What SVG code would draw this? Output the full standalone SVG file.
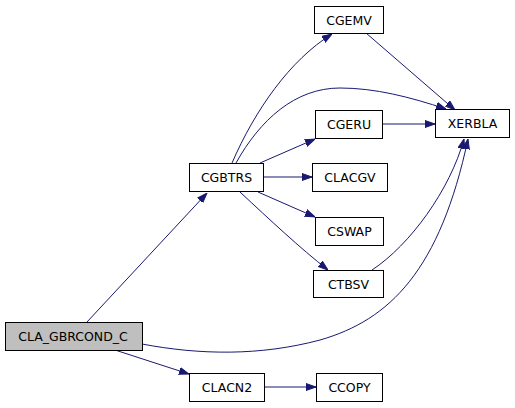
<svg xmlns="http://www.w3.org/2000/svg" width="515" height="408" viewBox="0 0 515 408">
<defs>
<marker id="ah" markerWidth="10" markerHeight="8" refX="10" refY="4" orient="auto" markerUnits="userSpaceOnUse">
<path d="M0,0.5 L10,4 L0,7.5 Z" fill="#191970" stroke="#191970"/>
</marker>
</defs>
<style>
.n rect{fill:#fff;stroke:#000;stroke-width:1}
.n text{font-family:"DejaVu Sans",sans-serif;font-size:12.5px;text-anchor:middle;fill:#000}
.e path{fill:none;stroke:#191970;stroke-width:1;marker-end:url(#ah)}
</style>
<rect width="515" height="408" fill="#fff"/>
<g class="e">
<path d="M87,322 L207,193"/>
<path d="M142,344 C200,355 260,356 320,340 C390,320 440,270 468,139"/>
<path d="M115,350 L189,374"/>
<path d="M264,387 L316,387"/>
<path d="M232,163 C255,110 290,60 332,34"/>
<path d="M236,163 C260,120 295,88 340,88 C375,88 410,97 446,109"/>
<path d="M260,163 L315,139"/>
<path d="M263,177 L312,177"/>
<path d="M258,192 L315,217"/>
<path d="M240,192 C270,220 300,248 328,270"/>
<path d="M366,33 L455,110"/>
<path d="M382,124 L435,124"/>
<path d="M372,270 C410,245 450,190 464,139"/>
</g>
<g id="CLA_GBRCOND_C" class="n"><rect x="5.5" y="322.5" width="137" height="28" style="fill:#bfbfbf"/><text x="73" y="341">CLA_GBRCOND_C</text></g>
<g id="CGBTRS" class="n"><rect x="189.5" y="163.5" width="74" height="28"/><text x="226.5" y="182">CGBTRS</text></g>
<g id="CGEMV" class="n"><rect x="314.5" y="6.5" width="69" height="27"/><text x="349" y="24.5">CGEMV</text></g>
<g id="XERBLA" class="n"><rect x="435.5" y="109.5" width="74" height="28"/><text x="472.5" y="128">XERBLA</text></g>
<g id="CGERU" class="n"><rect x="315.5" y="110.5" width="67" height="28"/><text x="349" y="129">CGERU</text></g>
<g id="CLACGV" class="n"><rect x="312.5" y="163.5" width="75" height="28"/><text x="350" y="182">CLACGV</text></g>
<g id="CSWAP" class="n"><rect x="315.5" y="217.5" width="68" height="28"/><text x="349.5" y="236">CSWAP</text></g>
<g id="CTBSV" class="n"><rect x="313.5" y="270.5" width="70" height="27"/><text x="348.5" y="288.5">CTBSV</text></g>
<g id="CLACN2" class="n"><rect x="189.5" y="373.5" width="75" height="28"/><text x="227" y="392">CLACN2</text></g>
<g id="CCOPY" class="n"><rect x="316.5" y="373.5" width="66" height="28"/><text x="349.5" y="392">CCOPY</text></g>
</svg>
